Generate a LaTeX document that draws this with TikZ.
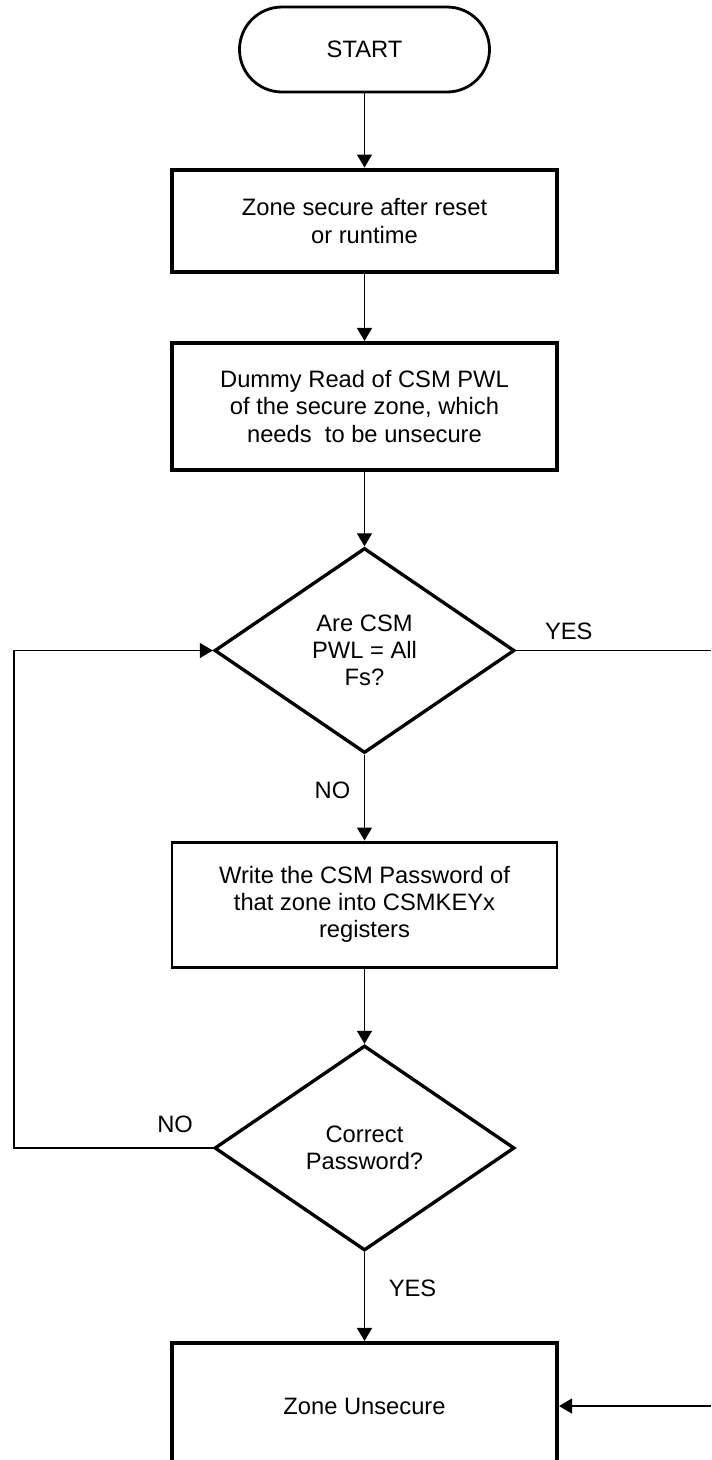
\documentclass[tikz,border=0pt]{standalone}
\usepackage{fontspec}
\setmainfont{Liberation Sans}
\usetikzlibrary{arrows.meta,shapes.geometric}
\tikzset{%
  >={Triangle[width=3mm,length=2.6mm]},
  % Specifications for style of nodes:
       startstop/.style = {rectangle, rounded corners=8.5mm, draw=black, line width=1.6pt,
                           minimum width=5cm, minimum height=1.7cm},
         process/.style = {rectangle, draw=black, minimum width=7.7cm, text centered},
        decision/.style = {diamond, draw=black, line width=1.9pt, inner sep=0pt,
                           minimum width=6cm, minimum height=4.1cm},
            flow/.style = {->, line width=0.7pt},
}
\begin{document}
\begin{tikzpicture}[node distance=1.5cm,
    every node/.style={font=\fontsize{13.5}{15.4}\selectfont}, align=center]
  \useasboundingbox (0,0) rectangle (14.22,-29.2);
  % Specification of nodes (position, etc.)
  \node (start) [startstop] at (7.29,-0.99) {START};
  \node (secure) [process, line width=2.8pt, minimum height=2.04cm, below of=start, yshift=-1.93cm]
     {Zone secure after reset\\or runtime};
  \node (dummy) [process, line width=2.3pt, minimum height=2.54cm, below of=secure, yshift=-2.21cm]
     {Dummy Read of CSM PWL\\of the secure zone, which\\needs~ to be unsecure};
  \node (allfs) [decision, below of=dummy, yshift=-3.38cm] {Are CSM\\PWL = All\\Fs?};
  \node (write) [process, line width=1.7pt, minimum height=2.5cm, below of=allfs, yshift=-3.58cm]
     {Write the CSM Password of\\that zone into CSMKEYx\\registers};
  \node (check) [decision, below of=write, yshift=-3.37cm] {Correct\\Password?};
  \node (unsecure) [process, line width=2.3pt, minimum height=2.52cm, below of=check, yshift=-3.66cm]
     {Zone Unsecure};

  \coordinate (leftrail) at (0.28,0);
  \coordinate (rightrail) at (14.22,0);

  % Specification of lines between nodes specified above
  % with aditional nodes for description
  \draw[flow] (start) -- (secure);
  \draw[flow] (secure) -- (dummy);
  \draw[flow] (dummy) -- (allfs);
  \draw[flow] (allfs) -- node[pos=0.42, xshift=-0.64cm]{NO} (write);
  \draw[flow] (write) -- (check);
  \draw[flow] (check) -- node[pos=0.41, xshift=0.96cm]{YES} (unsecure);
  \draw[flow] (check.west) -- node[pos=0.19, yshift=0.48cm]{NO} (check.west -| leftrail)
     |- (allfs.west);
  \draw[line width=0.7pt] (allfs.east) -- node[pos=0.27, yshift=0.38cm]{YES} (allfs.east -| rightrail);
  \draw[flow] (unsecure.east -| rightrail) -- (unsecure.east);
\end{tikzpicture}
\end{document}
